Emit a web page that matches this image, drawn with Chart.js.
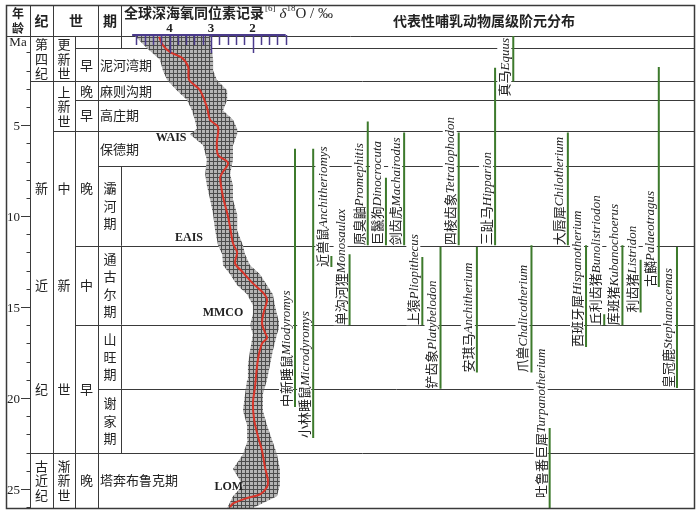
<!DOCTYPE html>
<html>
<head>
<meta charset="utf-8">
<script src="https://cdn.jsdelivr.net/npm/chart.js@4.4.1/dist/chart.umd.min.js"></script>
<style>
  html,body{margin:0;padding:0;background:#fff;}
  #c{display:block;}
</style>
</head>
<body>
<canvas id="c" width="700" height="513"></canvas>
<script>
// ---------- data: geological time scale (Ma) ----------
const periodNames = ['第四纪', '新近纪', '古近纪'];
const periodTops  = [0.1, 2.6, 23.03];
const epochNames  = ['更新世', '上新世', '中新世', '渐新世'];
const epochTops   = [0.1, 2.6, 5.33, 23.03];
const subNames    = ['', '早', '晚', '早', '晚', '中', '早', '晚'];
const subTops     = [0.1, 0.78, 2.6, 3.6, 5.33, 11.63, 15.97, 23.03];
const stageNames  = ['', '泥河湾期', '麻则沟期', '高庄期', '保德期', '灞河期', '通古尔期', '山旺期', '谢家期', '塔奔布鲁克期'];
const stageTops   = [0.1, 0.78, 2.6, 3.6, 5.33, 7.25, 11.63, 15.97, 19.5, 23.03];
const ageBottom   = 26.05;
const ageTicks    = [5, 10, 15, 20, 25];

// ---------- data: deep-sea δ18O record ----------
const isoTickLabels = [4, 3, 2];
const cloudAge  = [0.1, 0.77, 1.4, 2.0, 2.5, 3.1, 3.6, 4.2, 4.7, 5.2, 5.5, 6.1, 6.9, 7.7, 8.3, 9.1, 9.9, 10.8, 11.6, 12.1,
                   12.7, 13.2, 13.8, 14.3, 14.9, 15.4, 16.0, 16.5, 17.4, 18.2, 19.0, 19.8, 20.7, 21.5, 22.3, 23.1, 23.9, 24.8, 25.4, 26.05];
const cloudHigh = [4.83, 4.54, 4.23, 4.16, 4.06, 3.82, 3.58, 3.46, 3.39, 3.34, 3.51, 3.19, 3.10, 3.14, 3.10, 3.02, 2.95, 2.90, 2.83, 2.73,
                   2.71, 2.54, 2.37, 2.13, 1.99, 1.99, 2.06, 1.99, 2.06, 2.11, 2.13, 2.18, 2.23, 2.13, 2.11, 2.23, 2.47, 2.23, 2.47, 2.61];
const cloudLow  = [3.02, 2.98, 2.95, 2.95, 2.86, 2.61, 2.61, 2.71, 2.47, 2.37, 2.37, 2.47, 2.47, 2.54, 2.47, 2.47, 2.37, 2.37, 2.23, 2.18,
                   2.06, 1.82, 1.65, 1.51, 1.46, 1.41, 1.34, 1.41, 1.51, 1.58, 1.65, 1.75, 1.75, 1.65, 1.53, 1.41, 1.34, 1.34, 1.41, 1.99];
const meanAge   = [0.15, 0.6, 0.98, 1.3, 1.8, 2.5, 3.07, 4.0, 4.72, 5.1, 5.98, 6.64, 7.08, 7.63, 7.9, 8.95, 9.83, 10.6, 11.5, 12.0,
                   12.6, 13.1, 13.7, 14.2, 14.6, 15.2, 15.9, 16.4, 16.7, 17.0, 17.9, 19.4, 20.3, 21.2, 22.1, 22.9, 23.8, 24.5, 24.9, 25.3, 25.5, 25.8, 26.0];
const meanIso   = [4.25, 4.16, 3.99, 3.70, 3.55, 3.53, 3.27, 3.10, 3.02, 2.83, 2.86, 2.83, 2.59, 2.73, 2.78, 2.71, 2.61, 2.54, 2.47, 2.37,
                   2.42, 2.23, 1.99, 1.75, 1.65, 1.72, 1.77, 1.70, 1.65, 1.77, 1.87, 1.94, 1.99, 1.96, 1.87, 1.77, 1.70, 1.63, 1.65, 1.82, 2.13, 2.47, 2.54];
const eventNames = ['WAIS', 'EAIS', 'MMCO', 'LOM'];
const eventAge   = [5.7, 11.2, 15.33, 24.9];
const eventIso   = [3.96, 3.53, 2.71, 2.57];

// ---------- data: mammal genera ranges (Ma) ----------
const genusCn    = ['中新睡鼠', '小林睡鼠', '近兽鼠', '单沟河狸', '原臭鼬', '巨鬣狗', '剑齿虎', '上猿', '铲齿象', '四棱齿象', '安琪马',
                    '三趾马', '真马', '爪兽', '吐鲁番巨犀', '大唇犀', '西班牙犀', '丘利齿猪', '库班猪', '利齿猪', '古麟', '皇冠鹿'];
const genusLatin = ['Miodyromys', 'Microdyromys', 'Anchitheriomys', 'Monosaulax', 'Promephitis', 'Dinocrocuta', 'Machairodus', 'Pliopithecus',
                    'Platybelodon', 'Tetralophodon', 'Anchitherium', 'Hipparion', 'Equus', 'Chalicotherium', 'Turpanotherium', 'Chilotherium',
                    'Hispanotherium', 'Bunolistriodon', 'Kubanochoerus', 'Listridon', 'Palaeotragus', 'Stephanocemas'];
const genusFirst = [6.3, 6.3, 12.2, 12.1, 4.8, 7.9, 5.4, 12.25, 11.7, 5.4, 11.7, 1.85, 0.1, 11.6, 21.65, 5.4, 11.6, 15.4, 11.6, 12.4, 1.8, 11.7];
const genusLast  = [20.5, 22.2, 12.8, 16.0, 11.6, 11.6, 11.6, 16.0, 19.5, 11.6, 18.6, 11.6, 2.6, 18.6, 26.05, 11.6, 17.2, 16.0, 16.0, 15.3, 13.9, 19.45];

// ---------- layout ----------
const PAD = {left: 6, right: 5, top: 36, bottom: 5};
const FRAME_TOP = 5;
const COL = {period: 30, epoch: 53, sub: 75, stage: 98, iso: 121};
const AREA_W = 700 - PAD.left - PAD.right;
// δ18O axis: value 3 at x=211, 41.5 px per ‰, reversed
const ISO_PX = 41.5, ISO_AT3 = 211;
const isoMax = 3 + (ISO_AT3 - PAD.left) / ISO_PX;
const isoMin = isoMax - AREA_W / ISO_PX;
// genus axis: first genus at x=295, 18.19 px apart
const G_PX = 18.19, G_X0 = 295;
const gMin = (PAD.left - G_X0) / G_PX;
const gMax = gMin + AREA_W / G_PX;

const CN = '"Noto Sans CJK SC", "Noto Sans CJK JP", sans-serif';
const SERIF = '"Liberation Serif", "DejaVu Serif", serif';
const LINE = '#3a3a3a', TEXT = '#222';

function crossPattern(){
  const c = document.createElement('canvas'); c.width = 4; c.height = 4;
  const g = c.getContext('2d');
  g.fillStyle = '#b4b4b4'; g.fillRect(0, 0, 4, 4);
  g.fillStyle = '#4c4c4c'; g.fillRect(0, 1, 4, 1); g.fillRect(1, 0, 1, 4);
  return g.createPattern(c, 'repeat');
}

function hline(ctx, x0, x1, y){ y = Math.round(y) + 0.5; ctx.beginPath(); ctx.moveTo(x0, y); ctx.lineTo(x1, y); ctx.stroke(); }
function vline(ctx, x, y0, y1){ x = Math.round(x) + 0.5; ctx.beginPath(); ctx.moveTo(x, y0); ctx.lineTo(x, y1); ctx.stroke(); }
function stackText(ctx, str, cx, cy, step){
  const n = str.length;
  for(let i = 0; i < n; i++) ctx.fillText(str[i], cx, cy + (i - (n - 1) / 2) * step);
}

// ---------- table, header, axis ----------
const tablePlugin = {
  id: 'table',
  beforeDatasetsDraw(chart){
    const ctx = chart.ctx, ys = chart.scales.y;
    const {left, right, top, bottom} = chart.chartArea;
    const Y = v => ys.getPixelForValue(v);
    ctx.save();
    ctx.strokeStyle = LINE; ctx.lineWidth = 1;

    // column lines
    hline(ctx, left, right, top);
    vline(ctx, COL.period, FRAME_TOP, bottom);
    vline(ctx, COL.epoch, FRAME_TOP, bottom);
    vline(ctx, COL.stage, FRAME_TOP, bottom);
    vline(ctx, COL.sub, top, bottom);
    vline(ctx, COL.iso, FRAME_TOP, Y(stageTops[1]));

    // boundary lines, starting at the highest rank column they belong to
    stageTops.slice(1).forEach(a => {
      const x0 = periodTops.includes(a) ? COL.period : epochTops.includes(a) ? COL.epoch : subTops.includes(a) ? COL.sub : COL.stage;
      hline(ctx, x0, right, Y(a));
    });

    ctx.fillStyle = TEXT;
    ctx.textAlign = 'center'; ctx.textBaseline = 'middle';

    // header
    ctx.font = 'bold 12px ' + CN;
    ctx.fillText('年', 18, 13); ctx.fillText('龄', 18, 28);
    ctx.font = 'bold 14px ' + CN;
    ctx.fillText('纪', 41.5, 21); ctx.fillText('世', 76, 21); ctx.fillText('期', 110, 21);
    ctx.fillText('代表性哺乳动物属级阶元分布', 484, 21);

    ctx.textAlign = 'left';
    let x = 124;
    ctx.fillText('全球深海氧同位素记录', x, 13); x += ctx.measureText('全球深海氧同位素记录').width + 1;
    ctx.font = '9px ' + SERIF; ctx.fillText('[6]', x, 9); x += ctx.measureText('[6]').width + 4;
    ctx.font = 'italic 15px ' + SERIF; ctx.fillText('δ', x, 14); x += ctx.measureText('δ').width;
    ctx.font = '9px ' + SERIF; ctx.fillText('18', x, 9); x += ctx.measureText('18').width;
    ctx.font = '15px ' + SERIF; ctx.fillText('O / ‰', x, 14);

    // Ma axis
    ctx.textAlign = 'center';
    ctx.font = '13px ' + SERIF;
    ctx.fillText('Ma', 18, (Y(stageTops[0]) + Y(stageTops[1])) / 2);
    ctx.textAlign = 'right';
    for(let a = 1; a < ageBottom; a++){
      const y = Math.round(Y(a)) + 0.5;
      const major = ageTicks.includes(a);
      ctx.beginPath(); ctx.moveTo(major ? 21 : 26.5, y); ctx.lineTo(COL.period, y); ctx.stroke();
      if(major) ctx.fillText(String(a), 20, y + 1);
    }

    // period / epoch / sub-epoch columns
    const mioCenters = [4, 5, 6].map(i => (subTops[i] + subTops[i + 1]) / 2);
    ctx.textAlign = 'center';
    ctx.font = '13px ' + CN;
    const cells = (names, tops, cx) => names.forEach((n, i) => {
      const a0 = tops[i], a1 = i + 1 < tops.length ? tops[i + 1] : ageBottom;
      if(!n) return;
      if(a1 - a0 > 8 && n.length === 3){
        mioCenters.forEach((c, k) => ctx.fillText(n[k], cx, Y(c)));
      } else {
        stackText(ctx, n, cx, Y((a0 + a1) / 2), 14.5);
      }
    });
    cells(periodNames, periodTops, 41.5);
    cells(epochNames, epochTops, 64);
    cells(subNames, subTops, 86.5);

    // stages
    stageNames.forEach((n, i) => {
      const a0 = stageTops[i], a1 = i + 1 < stageTops.length ? stageTops[i + 1] : ageBottom;
      if(!n) return;
      const cy = Y((a0 + a1) / 2);
      if(n.length > 4 || a1 - a0 < 2.5){
        ctx.textAlign = 'left';
        ctx.fillText(n, 100, cy);
      } else {
        ctx.textAlign = 'center';
        stackText(ctx, n, 110, cy, 17.5);
        vline(ctx, COL.iso, Y(a0), Y(a1));
      }
    });
    ctx.restore();
  },

  afterDatasetsDraw(chart){
    const ctx = chart.ctx, ys = chart.scales.y, xs = chart.scales.x, gs = chart.scales.x2;
    const {left, right, top, bottom} = chart.chartArea;
    ctx.save();

    // δ18O ruler
    const ry = top - 1;
    ctx.strokeStyle = '#4b3b8c'; ctx.lineWidth = 2;
    ctx.beginPath(); ctx.moveTo(xs.getPixelForValue(4.9), ry); ctx.lineTo(xs.getPixelForValue(1.2), ry); ctx.stroke();
    ctx.lineWidth = 1.5;
    for(let k = 12; k <= 48; k += 2){
      const v = k / 10, px = Math.round(xs.getPixelForValue(v)) + 0.5;
      ctx.beginPath(); ctx.moveTo(px, ry); ctx.lineTo(px, ry + (k % 10 === 0 ? 18 : 10)); ctx.stroke();
    }
    ctx.fillStyle = TEXT; ctx.textAlign = 'center'; ctx.textBaseline = 'middle';
    ctx.font = 'bold 13px ' + SERIF;
    isoTickLabels.forEach(v => ctx.fillText(String(v), xs.getPixelForValue(v), 29));

    // climate events
    ctx.font = 'bold 12px ' + SERIF;
    eventNames.forEach((n, i) => ctx.fillText(n, xs.getPixelForValue(eventIso[i]), ys.getPixelForValue(eventAge[i])));

    // genus labels
    ctx.textAlign = 'left';
    genusCn.forEach((cn, i) => {
      ctx.font = '13px ' + CN; const wc = ctx.measureText(cn).width;
      ctx.font = 'italic 13px ' + SERIF; const wl = ctx.measureText(genusLatin[i]).width;
      const w = wc + wl;
      let yb = ys.getPixelForValue(genusLast[i]);
      yb = Math.min(Math.max(yb, top + w + 2), bottom - 10);
      const xc = gs.getPixelForValue(i) - 9;
      ctx.save();
      ctx.translate(xc, yb); ctx.rotate(-Math.PI / 2);
      ctx.fillStyle = '#fff'; ctx.fillRect(0, -7, w, 14);
      ctx.fillStyle = TEXT;
      ctx.font = '13px ' + CN; ctx.fillText(cn, 0, 0);
      ctx.font = 'italic 13px ' + SERIF; ctx.fillText(genusLatin[i], wc, 1);
      ctx.restore();
    });

    // outer frame
    ctx.strokeStyle = LINE; ctx.lineWidth = 1.5;
    ctx.strokeRect(left + 0.5, FRAME_TOP + 0.5, right - left - 1, bottom - FRAME_TOP);
    ctx.restore();
  }
};

// ---------- datasets ----------
// lower "order" is drawn on top
const genusSets = genusCn.map((_, i) => ({
  xAxisID: 'x2', order: 1,
  data: [{x: i, y: genusFirst[i]}, {x: i, y: genusLast[i]}],
  borderColor: '#3d7a2c', borderWidth: 2, pointRadius: 0, fill: false
}));

new Chart(document.getElementById('c').getContext('2d'), {
  type: 'line',
  data: {
    datasets: [
      {data: meanAge.map((a, i) => ({x: meanIso[i], y: a})), order: 0, borderColor: '#d8352a', borderWidth: 2, pointRadius: 0,
       tension: 0.3, fill: false},
      {data: cloudAge.map((a, i) => ({x: cloudHigh[i], y: a})), order: 3, borderWidth: 0, pointRadius: 0, fill: false},
      {data: cloudAge.map((a, i) => ({x: cloudLow[i], y: a})), order: 2, borderWidth: 0, pointRadius: 0, fill: '-1',
       backgroundColor: crossPattern()},
      ...genusSets
    ]
  },
  options: {
    indexAxis: 'y',
    responsive: false,
    devicePixelRatio: 1,
    animation: false,
    layout: {padding: PAD},
    plugins: {legend: {display: false}, tooltip: {enabled: false}},
    scales: {
      x:  {type: 'linear', axis: 'x', reverse: true, min: isoMin, max: isoMax, display: false},
      x2: {type: 'linear', axis: 'x', min: gMin, max: gMax, display: false},
      y:  {type: 'linear', axis: 'y', reverse: true, min: stageTops[0], max: ageBottom, display: false}
    }
  },
  plugins: [tablePlugin]
});
</script>
</body>
</html>
